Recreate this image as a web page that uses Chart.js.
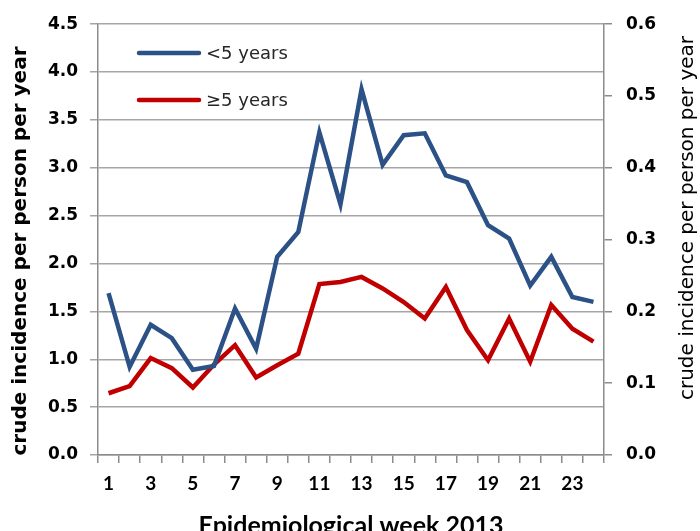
<!DOCTYPE html>
<html><head><meta charset="utf-8">
<script src="https://cdn.jsdelivr.net/npm/chart.js@4.4.1/dist/chart.umd.min.js"></script>
<style>html,body{margin:0;padding:0;background:#fff;overflow:hidden}</style>
</head><body>
<canvas id="c" width="700" height="531"></canvas>
<script>
// ---- data ----
const weeks = ['1','2','3','4','5','6','7','8','9','10','11','12','13','14','15','16','17','18','19','20','21','22','23','24'];
const under5 = [1.69,0.92,1.36,1.22,0.89,0.93,1.53,1.11,2.07,2.33,3.37,2.62,3.82,3.03,3.34,3.36,2.92,2.85,2.40,2.26,1.77,2.07,1.65,1.60];
const over5  = [0.086,0.096,0.135,0.121,0.094,0.126,0.153,0.108,0.125,0.141,0.238,0.241,0.248,0.232,0.213,0.190,0.234,0.174,0.132,0.190,0.130,0.209,0.176,0.158];
const seriesNames = ['<5 years','\u22655 years'];
const xTitle = 'Epidemiological week 2013';
const yTitle = 'crude incidence per person per year';

const BLUE = '#2B5186', RED = '#C00000';

const extras = {
  id: 'extras',
  afterDraw(chart) {
    const ctx = chart.ctx, a = chart.chartArea;
    ctx.save();
    // legend
    const items = [[BLUE, seriesNames[0], 53], [RED, seriesNames[1], 100]];
    ctx.font = '18px "DejaVu Sans"';
    ctx.textBaseline = 'middle';
    ctx.textAlign = 'left';
    items.forEach(([c, t, y]) => {
      ctx.strokeStyle = c; ctx.lineWidth = 4.5; ctx.lineCap = 'round';
      ctx.beginPath(); ctx.moveTo(a.left + 41, y); ctx.lineTo(a.left + 101, y); ctx.stroke();
      ctx.fillStyle = '#262626'; ctx.fillText(t, a.left + 108, y + 1);
    });
    // left y title
    ctx.fillStyle = '#000';
    ctx.textAlign = 'center';
    ctx.save();
    ctx.translate(21, 251); ctx.rotate(-Math.PI / 2);
    ctx.font = 'bold 20px "DejaVu Sans"';
    ctx.fillText(yTitle, 0, 0);
    ctx.restore();
    // right y title
    ctx.save();
    ctx.translate(688, 218); ctx.rotate(-Math.PI / 2);
    ctx.font = '20px "DejaVu Sans"';
    ctx.fillText(yTitle, 0, 0);
    ctx.restore();
    ctx.restore();
  }
};

new Chart(document.getElementById('c'), {
  type: 'line',
  data: {
    labels: weeks,
    datasets: [
      { label: seriesNames[0], data: under5, yAxisID: 'y', borderColor: BLUE, borderWidth: 4.5, pointRadius: 0, tension: 0, fill: false, borderJoinStyle: 'miter' },
      { label: seriesNames[1], data: over5, yAxisID: 'y2', borderColor: RED, borderWidth: 4.5, pointRadius: 0, tension: 0, fill: false, borderJoinStyle: 'miter' }
    ]
  },
  options: {
    responsive: false, animation: false,
    layout: { padding: { top: 24, left: 0, right: 0, bottom: 0 } },
    plugins: { legend: { display: false }, tooltip: { enabled: false } },
    scales: {
      x: {
        offset: true,
        grid: { offset: true, drawOnChartArea: false, tickLength: 8, color: '#8c8c8c', lineWidth: 1.5 },
        border: { color: '#8c8c8c', width: 1.5 },
        ticks: { autoSkip: false, maxRotation: 0, padding: 9, color: '#000',
                 font: { family: 'Lato', weight: 'bold', size: 19 },
                 callback: (v, i) => (i % 2 === 0 ? weeks[i] : '') },
        title: { display: true, text: xTitle, color: '#000', font: { family: 'Lato', weight: 'bold', size: 25 }, padding: { top: 0, bottom: -10 } },
        afterFit: s => { s.height = 76; }
      },
      y: {
        position: 'left', min: 0, max: 4.5,
        grid: { color: '#a6a6a6', lineWidth: 1.5, tickLength: 8 },
        border: { color: '#8c8c8c', width: 1.5 },
        ticks: { stepSize: 0.5, padding: 12, color: '#000', font: { family: 'DejaVu Sans', weight: 'bold', size: 17 },
                 callback: v => Number(v).toFixed(1) },
        afterFit: s => { s.width = 98; }
      },
      y2: {
        position: 'right', min: 0, max: 0.6,
        grid: { drawOnChartArea: false, color: '#8c8c8c', lineWidth: 1.5, tickLength: 8 },
        border: { color: '#8c8c8c', width: 1.5 },
        ticks: { stepSize: 0.1, padding: 14, color: '#000', font: { family: 'DejaVu Sans', weight: 'bold', size: 17 },
                 callback: v => Number(v).toFixed(1) },
        afterFit: s => { s.width = 96; }
      }
    }
  },
  plugins: [extras]
});
</script>
</body></html>
